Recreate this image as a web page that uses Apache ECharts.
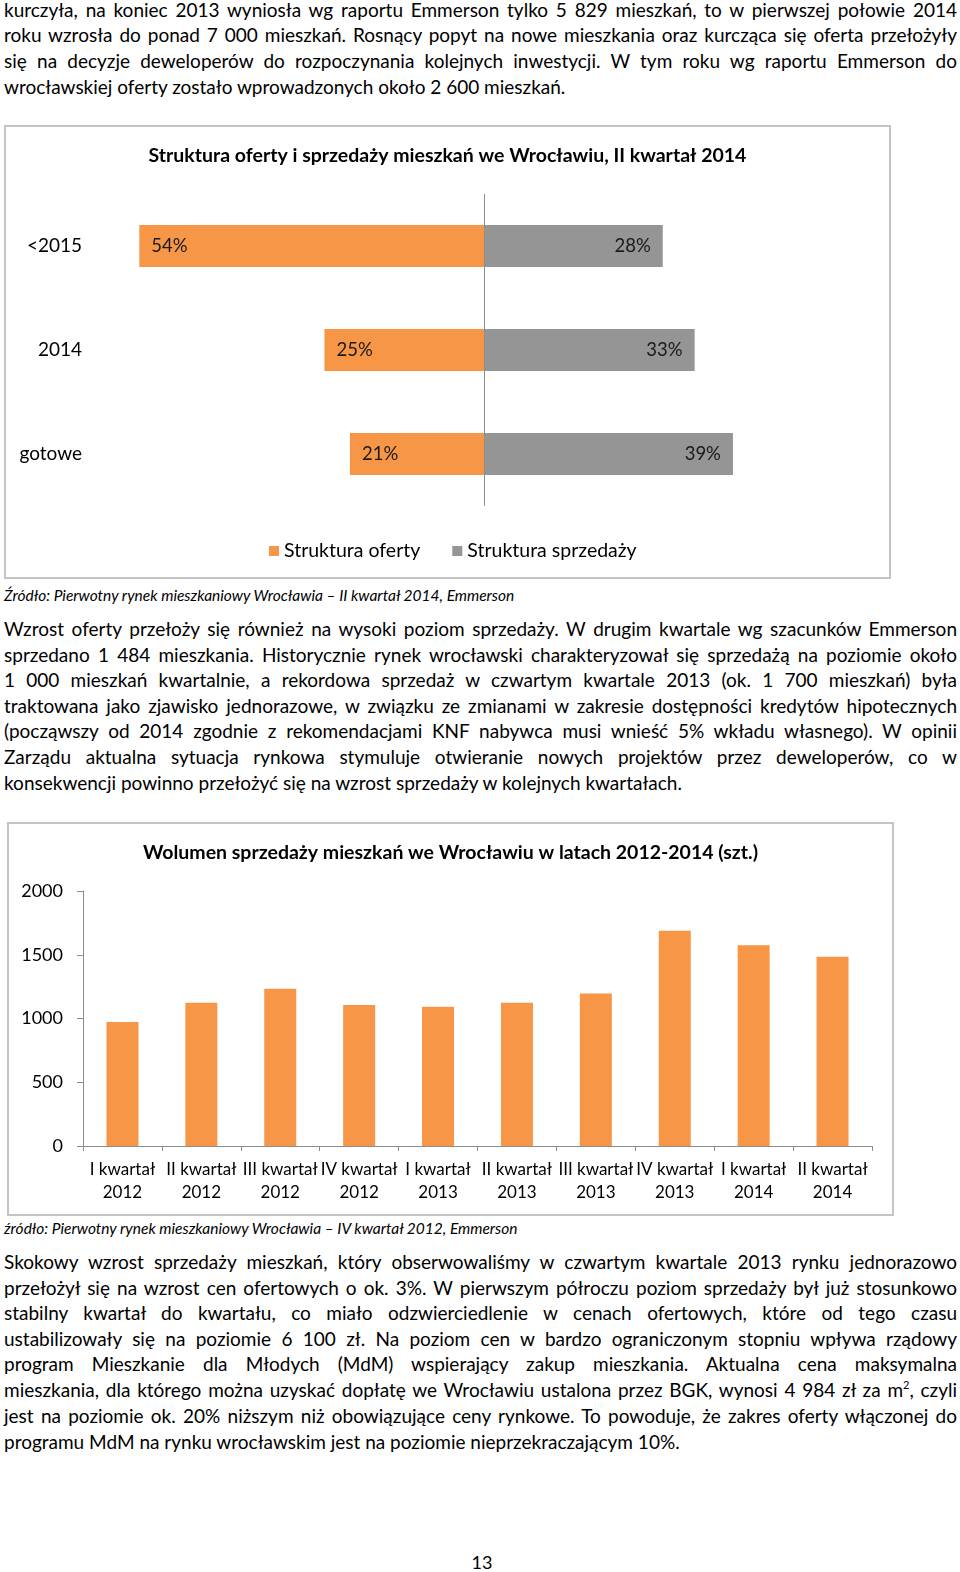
<!DOCTYPE html>
<html><head><meta charset="utf-8">
<script src="https://cdn.jsdelivr.net/npm/echarts@6/dist/echarts.min.js"></script>
<style>
html,body{margin:0;padding:0;background:#fff;}
body{width:960px;height:1572px;position:relative;overflow:hidden;font-family:Lato,"Open Sans",sans-serif;color:#000;}
.ln{position:absolute;left:4px;width:953px;height:26px;line-height:26px;white-space:nowrap;font-size:19px;}
.cap{position:absolute;left:4px;height:20px;line-height:20px;white-space:nowrap;font-size:15.5px;font-style:italic;}
.box{position:absolute;border:2px solid #c3c3c3;box-sizing:border-box;}
sup{font-size:11px;line-height:0;vertical-align:8px;}
</style></head><body>
<div class="ln j" style="top:-3px">kurczyła, na koniec 2013 wyniosła wg raportu Emmerson tylko 5 829 mieszkań, to w pierwszej połowie 2014</div>
<div class="ln j" style="top:22px">roku wzrosła do ponad 7 000 mieszkań. Rosnący popyt na nowe mieszkania oraz kurcząca się oferta przełożyły</div>
<div class="ln j" style="top:48px">się na decyzje deweloperów do rozpoczynania kolejnych inwestycji. W tym roku wg raportu Emmerson do</div>
<div class="ln" style="top:74px">wrocławskiej oferty zostało wprowadzonych około 2 600 mieszkań.</div>

<div id="c1" class="box" style="left:4px;top:125px;width:887px;height:454px;"></div>
<div class="cap" style="top:585px">Źródło: Pierwotny rynek mieszkaniowy Wrocławia – II kwartał 2014, Emmerson</div>

<div class="ln j" style="top:616px">Wzrost oferty przełoży się również na wysoki poziom sprzedaży. W drugim kwartale wg szacunków Emmerson</div>
<div class="ln j" style="top:642px">sprzedano 1 484 mieszkania. Historycznie rynek wrocławski charakteryzował się sprzedażą na poziomie około</div>
<div class="ln j" style="top:667px">1 000 mieszkań kwartalnie, a rekordowa sprzedaż w czwartym kwartale 2013 (ok. 1 700 mieszkań) była</div>
<div class="ln j" style="top:693px">traktowana jako zjawisko jednorazowe, w związku ze zmianami w zakresie dostępności kredytów hipotecznych</div>
<div class="ln j" style="top:718px">(począwszy od 2014 zgodnie z rekomendacjami KNF nabywca musi wnieść 5% wkładu własnego). W opinii</div>
<div class="ln j" style="top:744px">Zarządu aktualna sytuacja rynkowa stymuluje otwieranie nowych projektów przez deweloperów, co w</div>
<div class="ln" style="top:770px">konsekwencji powinno przełożyć się na wzrost sprzedaży w kolejnych kwartałach.</div>

<div id="c2" class="box" style="left:7px;top:822px;width:887px;height:394px;"></div>
<div class="cap" style="top:1218px">źródło: Pierwotny rynek mieszkaniowy Wrocławia – IV kwartał 2012, Emmerson</div>

<div class="ln j" style="top:1249px">Skokowy wzrost sprzedaży mieszkań, który obserwowaliśmy w czwartym kwartale 2013 rynku jednorazowo</div>
<div class="ln j" style="top:1275px">przełożył się na wzrost cen ofertowych o ok. 3%. W pierwszym półroczu poziom sprzedaży był już stosunkowo</div>
<div class="ln j" style="top:1300px">stabilny kwartał do kwartału, co miało odzwierciedlenie w cenach ofertowych, które od tego czasu</div>
<div class="ln j" style="top:1326px">ustabilizowały się na poziomie 6 100 zł. Na poziom cen w bardzo ograniczonym stopniu wpływa rządowy</div>
<div class="ln j" style="top:1351px">program Mieszkanie dla Młodych (MdM) wspierający zakup mieszkania. Aktualna cena maksymalna</div>
<div class="ln j" style="top:1377px">mieszkania, dla którego można uzyskać dopłatę we Wrocławiu ustalona przez BGK, wynosi 4 984 zł za m<sup>2</sup>, czyli</div>
<div class="ln j" style="top:1403px">jest na poziomie ok. 20% niższym niż obowiązujące ceny rynkowe. To powoduje, że zakres oferty włączonej do</div>
<div class="ln" style="top:1429px">programu MdM na rynku wrocławskim jest na poziomie nieprzekraczającym 10%.</div>

<div style="position:absolute;left:2px;width:960px;top:1550px;text-align:center;font-size:18px;line-height:24px;">13</div>

<script>
// ---- Chart 1 data ----
const structCategories = ['<2015', '2014', 'gotowe'];
const offerShare = [54, 25, 21];      // Struktura oferty (%)
const salesShare = [28, 33, 39];      // Struktura sprzedaży (%)
const seriesNames1 = ['Struktura oferty', 'Struktura sprzedaży'];

// ---- Chart 2 data ----
const quarterLabels = ['I kwartał\n2012','II kwartał\n2012','III kwartał\n2012','IV kwartał\n2012',
  'I kwartał\n2013','II kwartał\n2013','III kwartał\n2013','IV kwartał\n2013',
  'I kwartał\n2014','II kwartał\n2014'];
const salesVolume = [973, 1124, 1234, 1105, 1092, 1124, 1197, 1689, 1574, 1484];
const yTicks = [0, 500, 1000, 1500, 2000];

const FONT = 'Lato';
const ORANGE = '#F79646';
const GRAY = '#959595';
const AXIS = '#8c8c8c';

// justify body lines
function justify(){
  document.querySelectorAll('.ln.j').forEach(el=>{
    el.style.wordSpacing = '0px';
    const r = document.createRange(); r.selectNodeContents(el);
    const w = r.getBoundingClientRect().width;
    const n = (el.textContent.match(/ /g)||[]).length;
    if(n>0) el.style.wordSpacing = ((953 - w)/n) + 'px';
  });
}
justify();
if(document.fonts && document.fonts.ready) document.fonts.ready.then(justify);

const c1 = echarts.init(document.getElementById('c1'), null, {renderer:'canvas'});
c1.setOption({
  animation:false,
  textStyle:{fontFamily:FONT},
  title:{text:'Struktura oferty i sprzedaży mieszkań we Wrocławiu, II kwartał 2014', left:'center', top:14,
    textStyle:{fontFamily:FONT, fontSize:19.5, fontWeight:'bold', color:'#000'}},
  legend:{data:seriesNames1, left:258, top:409, icon:'rect', itemWidth:10, itemHeight:10, itemGap:32,
    textStyle:{fontFamily:FONT, fontSize:19.5, color:'#000'}},
  grid:{left:95, top:67, width:766, height:312},
  xAxis:{type:'value', min:-60, max:60, show:false},
  yAxis:{type:'category', data:structCategories, inverse:true,
    axisLine:{show:false}, axisTick:{show:false},
    axisLabel:{margin:19, fontSize:19, color:'#000', fontFamily:FONT}},
  series:[
    {name:seriesNames1[0], type:'bar', stack:'s', barWidth:42, itemStyle:{color:ORANGE},
     data:offerShare.map(v=>-v),
     label:{show:true, position:'insideLeft', distance:12, fontSize:18.5, fontFamily:FONT, color:'#1a1a1a',
       formatter:p=>Math.abs(p.value)+'%'}},
    {name:seriesNames1[1], type:'bar', stack:'s', barWidth:42, itemStyle:{color:GRAY},
     data:salesShare,
     label:{show:true, position:'insideRight', distance:12, fontSize:18.5, fontFamily:FONT, color:'#1a1a1a',
       formatter:p=>p.value+'%'},
     markLine:{silent:true, symbol:'none', label:{show:false},
       lineStyle:{color:AXIS, width:1, type:'solid'}, data:[{xAxis:0}]}}
  ]
});

const c2 = echarts.init(document.getElementById('c2'), null, {renderer:'canvas'});
c2.setOption({
  animation:false,
  textStyle:{fontFamily:FONT},
  title:{text:'Wolumen sprzedaży mieszkań we Wrocławiu w latach 2012-2014 (szt.)', left:'center', top:14,
    textStyle:{fontFamily:FONT, fontSize:19.5, fontWeight:'bold', color:'#000'}},
  grid:{left:74, top:67, width:789, height:255},
  xAxis:{type:'category', data:quarterLabels,
    axisLine:{lineStyle:{color:AXIS}}, axisTick:{show:true, length:5, lineStyle:{color:AXIS}},
    axisLabel:{interval:0, margin:12, fontSize:17, lineHeight:23, color:'#000', fontFamily:FONT}},
  yAxis:{type:'value', min:yTicks[0], max:yTicks[yTicks.length-1], interval:500,
    axisLine:{show:true, lineStyle:{color:AXIS}}, axisTick:{show:true, length:6, lineStyle:{color:AXIS}},
    splitLine:{show:false},
    axisLabel:{margin:20, fontSize:18, color:'#000', fontFamily:FONT, formatter:v=>String(v)}},
  series:[{type:'bar', data:salesVolume, barWidth:32, itemStyle:{color:ORANGE}}]
});
</script>
</body></html>
